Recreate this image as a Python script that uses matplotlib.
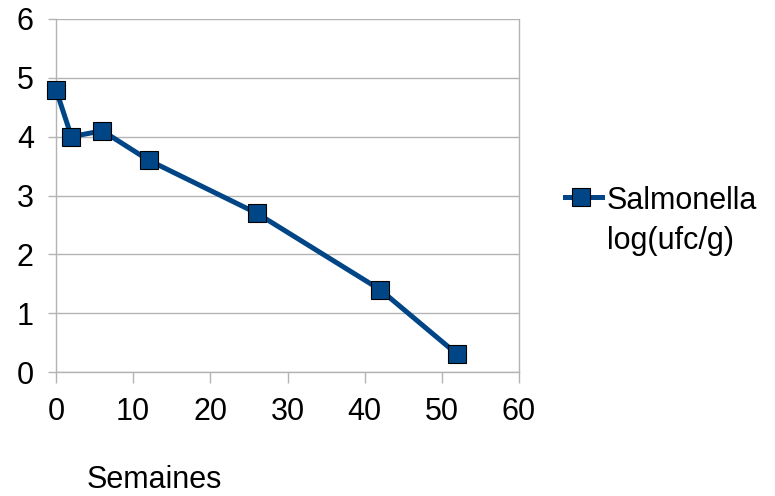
import matplotlib
matplotlib.use("Agg")
import matplotlib.pyplot as plt
from matplotlib.lines import Line2D

weeks = [0, 2, 6, 12, 26, 42, 52]
salmonella = [4.8, 4.0, 4.1, 3.6, 2.7, 1.4, 0.3]
xticks = [0, 10, 20, 30, 40, 50, 60]
yticks = [0, 1, 2, 3, 4, 5, 6]
series_label = "Salmonella\nlog(ufc/g)"
xlabel = "Semaines"

plt.rcParams['font.family'] = ['Liberation Sans', 'DejaVu Sans']
W, H = 775, 496
fig = plt.figure(figsize=(W/100, H/100), dpi=100)
ax = fig.add_axes([56/W, 1-372/H, (519-56)/W, (372-19)/H])

color = '#004586'
grid = '#b3b3b3'
FS = 22
ax.plot(weeks, salmonella, color=color, lw=3.6, marker='s', ms=13.5,
        mfc=color, mec='black', mew=0.8, clip_on=False, zorder=3)

ax.set_xlim(0, 60)
ax.set_ylim(0, 6)
ax.set_xticks(xticks)
ax.set_yticks(yticks)
ax.yaxis.grid(True, color=grid, lw=1)
ax.set_axisbelow(True)
for s in ['left', 'right', 'bottom']:
    ax.spines[s].set_color(grid)
    ax.spines[s].set_linewidth(1)
ax.spines['top'].set_visible(False)
ax.tick_params(axis='both', colors=grid, width=1, labelsize=FS,
               labelcolor='black')
ax.tick_params(axis='x', length=8, pad=10)
ax.tick_params(axis='y', length=6, pad=10)

fig.text(154/W, 1-480/H, xlabel, fontsize=FS, ha='center', va='center')

# legend key drawn in figure space
key = Line2D([565/W, 602/W], [1-197/H, 1-197/H], transform=fig.transFigure,
             color=color, lw=3.6)
keym = Line2D([581/W], [1-197/H], transform=fig.transFigure,
              color=color, marker='s', ms=13.5, mfc=color, mec='black', mew=0.8)
fig.add_artist(key)
fig.add_artist(keym)
fig.text(607/W, 1-221/H, series_label, fontsize=FS, ha='left', va='center',
         linespacing=1.42, transform=fig.transFigure)

fig.savefig("out.png", dpi=100)
